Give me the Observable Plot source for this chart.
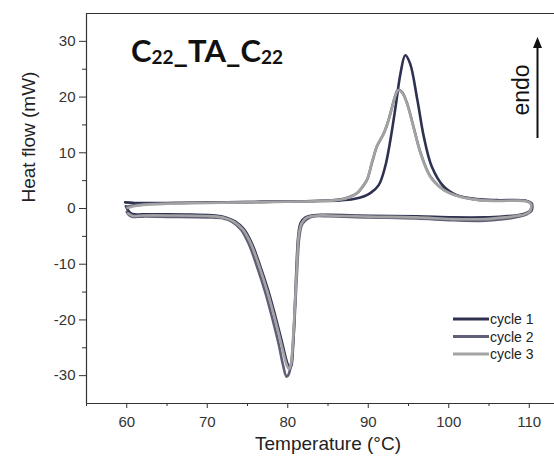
<!DOCTYPE html>
<html>
<head>
<meta charset="utf-8">
<script src="https://cdn.jsdelivr.net/npm/d3@7"></script>
<script src="https://cdn.jsdelivr.net/npm/@observablehq/plot@0.6"></script>
<style>
  html, body { margin: 0; padding: 0; background: #fff; overflow: hidden; }
  #chart { width: 554px; height: 467px; overflow: hidden; position: relative; }
  #chart svg { max-width: none !important; display: block; }
</style>
</head>
<body>
<div id="chart"></div>
<script>
// DSC heating/cooling loops, three cycles (temperature in °C, heat flow in mW)
const cycleNames = ["cycle 1", "cycle 2", "cycle 3"];
const cycleColors = ["#2e3250", "#5f6077", "#a3a3a3"];

const c1Temp = [59.8, 61, 65, 70, 75, 80, 84, 86.5, 88.2, 89.5, 90.3, 91.3, 92.1, 92.75, 93.4, 94.0, 94.6, 95.2, 96.1, 96.9, 97.9, 99.4, 101.0, 103.5, 106, 109.6,
  110.2, 110.15, 109.5,
  108.5, 107, 104.5, 100.5, 96, 90, 85, 83.2, 82.2, 81.6, 81.3, 81.1, 80.9, 80.7, 80.45, 80.25, 80.0, 79.75, 79.25, 78.45, 77.55, 76.55, 75.55, 74.55, 73.45, 72.3, 71, 68, 65, 62, 60.7, 60.2, 59.9];
const c1Flow = [1.1, 1.0, 1.0, 1.05, 1.15, 1.25, 1.35, 1.45, 1.7, 2.2, 2.8, 4.2, 7.5, 12.3, 18.3, 24.2, 27.5, 26.0, 19.5, 12.9, 7.5, 3.9, 2.4, 1.7, 1.5, 1.4,
  0.9, -0.3, -0.9,
  -1.2, -1.4, -1.6, -1.6, -1.4, -1.3, -1.15, -1.2, -1.6, -2.6, -5, -10, -17, -23.5, -28.2, -28.7, -28.0, -26.8, -23.8, -19.3, -14.6, -10.2, -6.3, -3.7, -2.3, -1.6, -1.25, -1.1, -1.05, -1.05, -1.0, -0.4, 0.4];

const c2Temp = [60.0, 61, 62.5, 65, 70, 75, 80, 84, 86, 87.4, 88.6, 89.4, 89.9, 90.5, 91.1, 91.6, 91.9, 92.4, 92.9, 93.3, 93.7, 94.2, 94.8, 95.6, 96.5, 97.7, 99.4, 101.4, 103.9, 106, 109.6,
  110.3, 110.3, 109.6,
  108.5, 107, 104.5, 100.5, 96, 90, 85, 83.4, 82.5, 81.8, 81.45, 81.2, 80.95, 80.7, 80.4, 80.1, 79.85, 79.4, 78.9, 78.1, 77.2, 76.2, 75.2, 74.2, 73.1, 72, 70, 65, 62, 60.8, 60.3, 60.0];
const c2Flow = [0.3, 0.6, 0.8, 0.95, 1.05, 1.15, 1.25, 1.4, 1.55, 1.95, 2.75, 4.1, 5.3, 8.4, 11.2, 12.6, 13.4, 15.3, 17.9, 20.0, 21.3, 20.9, 19.0, 14.8, 10.0, 5.8, 3.35, 2.15, 1.5, 1.4, 1.35,
  1.0, -0.4, -1.1,
  -1.5, -1.9, -2.2, -2.1, -1.8, -1.6, -1.4, -1.4, -1.8, -2.8, -5, -10, -17, -23.5, -28, -29.8, -30.2, -28.0, -24.5, -19.8, -15, -10.5, -6.5, -3.8, -2.4, -1.8, -1.6, -1.5, -1.45, -1.5, -1.2, -0.6];

const c3Temp = [60.1, 61, 62.5, 65, 70, 75, 80, 84, 86, 87.4, 88.6, 89.4, 89.9, 90.5, 91.1, 91.6, 91.9, 92.4, 92.9, 93.3, 93.7, 94.2, 94.8, 95.6, 96.5, 97.7, 99.4, 101.4, 103.9, 106, 109.6,
  110.2, 110.1, 109.5,
  108.5, 107, 104.5, 100.5, 96, 90, 85, 83.3, 82.3, 81.7, 81.35, 81.15, 80.9, 80.65, 80.4, 80.15, 79.9, 79.65, 79.15, 78.35, 77.45, 76.45, 75.45, 74.45, 73.35, 72.2, 70, 65, 62, 60.7, 60.2];
const c3Flow = [0.1, 0.45, 0.7, 0.85, 1.0, 1.1, 1.2, 1.35, 1.5, 1.9, 2.8, 4.2, 5.4, 8.5, 11.3, 12.6, 13.4, 15.3, 17.8, 19.9, 21.2, 20.8, 18.9, 14.7, 9.9, 5.7, 3.3, 2.1, 1.5, 1.35, 1.3,
  0.8, -0.4, -1.0,
  -1.3, -1.6, -1.9, -1.9, -1.6, -1.45, -1.25, -1.3, -1.7, -2.7, -5, -10, -17, -23.5, -28, -28.8, -28.2, -27.0, -24.0, -19.5, -14.8, -10.3, -6.4, -3.8, -2.4, -1.7, -1.35, -1.25, -1.25, -1.3, -0.9];

const xDomain = [55, 115];
const yDomain = [-35, 35];
const xMajor = [60, 70, 80, 90, 100, 110];
const xMinor = [55, 65, 75, 85, 95, 105];
const yMajor = [-30, -20, -10, 0, 10, 20, 30];
const yMinor = [-25, -15, -5, 5, 15, 25];

const xLabel = "Temperature (°C)";
const yLabel = "Heat flow (mW)";
const sampleName = ["C", "22", "_TA_C", "22"];
const directionLabel = "endo";

// one table row per measured point, tagged with its cycle
const series = [[c1Temp, c1Flow], [c2Temp, c2Flow], [c3Temp, c3Flow]];
const rows = series.flatMap(([t, h], i) => t.map((v, j) => ({cycle: cycleNames[i], T: v, H: h[j]})));
const of = name => rows.filter(d => d.cycle === name);

const axisColor = "#333";
const font = "'Liberation Sans', Arial, sans-serif";
const fmt = d => String(d);
const mLeft = 86, mTop = 13;

const plot = Plot.plot({
  width: 570,
  height: 467,
  marginLeft: mLeft,
  marginRight: 1,
  marginTop: mTop,
  marginBottom: 64,
  style: {fontFamily: font, fontSize: "15px", color: axisColor, background: "#fff"},
  x: {domain: xDomain},
  y: {domain: yDomain},
  marks: [
    Plot.ruleX([xDomain[0]], {stroke: axisColor, strokeWidth: 1.2}),
    Plot.ruleY(yDomain, {stroke: axisColor, strokeWidth: 1.2}),
    Plot.axisY(yMajor, {tickSize: 7, tickPadding: 4, tickFormat: fmt, label: null, stroke: axisColor, fill: axisColor}),
    Plot.axisY(yMinor, {tickSize: 4, text: null, label: null, stroke: axisColor}),
    Plot.axisX(xMajor, {tickSize: 5, tickPadding: 8, tickFormat: fmt, label: null, stroke: axisColor, fill: axisColor}),
    Plot.axisX(xMinor, {tickSize: 3, text: null, label: null, stroke: axisColor}),
    Plot.text([xLabel], {frameAnchor: "bottom", dy: 46, fontSize: 19, fill: "#222"}),
    Plot.text([yLabel], {frameAnchor: "left", rotate: -90, dx: -58, dy: -6, fontSize: 19, fill: "#222"}),
    // cycles drawn in measurement order, later ones on top
    Plot.line(of("cycle 1"), {x: "T", y: "H", stroke: cycleColors[0], strokeWidth: 2.6, curve: "catmull-rom"}),
    Plot.line(of("cycle 2"), {x: "T", y: "H", stroke: cycleColors[1], strokeWidth: 2.6, curve: "catmull-rom"}),
    Plot.line(of("cycle 3"), {x: "T", y: "H", stroke: cycleColors[2], strokeWidth: 2.6, curve: "catmull-rom"})
  ]
});

document.getElementById("chart").appendChild(plot);

// annotations inside the frame: sample name, "endo" arrow, legend
const svg = d3.select(plot);

const title = svg.append("text")
  .attr("x", mLeft + 45).attr("y", mTop + 49)
  .attr("text-anchor", "start")
  .attr("font-family", "Lato, 'Open Sans', sans-serif")
  .attr("font-weight", 700).attr("font-size", 31).attr("fill", "#111");
sampleName.forEach((part, i) => {
  const sub = i % 2 === 1;
  title.append("tspan")
    .attr("font-size", sub ? 19 : 31)
    .attr("dy", sub ? 2 : (i === 0 ? 0 : -2))
    .text(part);
});

// "endo" direction arrow
svg.append("line")
  .attr("x1", 537.5).attr("x2", 537.5).attr("y1", 138).attr("y2", 46)
  .attr("stroke", "#111").attr("stroke-width", 2);
svg.append("path")
  .attr("d", "M533,48 L537.5,37 L542,48 Z")
  .attr("fill", "#111");

svg.append("text")
  .attr("transform", "translate(529,90) rotate(-90)")
  .attr("text-anchor", "middle")
  .attr("font-family", font).attr("font-size", 23).attr("fill", "#111")
  .text(directionLabel);

const legend = svg.append("g").attr("transform", "translate(453,319)");
cycleNames.forEach((name, i) => {
  const g = legend.append("g").attr("transform", `translate(0,${i * 17.5})`);
  g.append("line").attr("x1", 0).attr("x2", 36).attr("stroke", cycleColors[i]).attr("stroke-width", 3);
  g.append("text").attr("x", 37).attr("y", 5)
    .attr("text-anchor", "start")
    .attr("font-family", font).attr("font-size", 14).attr("fill", "#222")
    .text(name);
});
</script>
</body>
</html>
